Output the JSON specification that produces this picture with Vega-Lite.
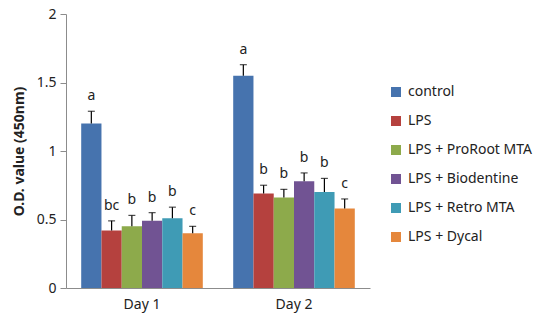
{
  "$schema": "https://vega.github.io/schema/vega-lite/v6.json",
  "width": 304,
  "height": 274,
  "autosize": "none",
  "padding": {"left": 66, "top": 14, "right": 180, "bottom": 39},
  "config": {
    "font": "Noto Sans",
    "view": {"stroke": null},
    "axis": {"labelColor": "#222", "titleColor": "#222", "domainColor": "#8c8c8c", "tickColor": "#8c8c8c", "grid": false, "labelFontSize": 14, "labelFontWeight": "normal"}
  },
  "data": {
    "values": [
      {"day": "Day 1", "group": "control", "value": 1.20, "upper": 1.29, "letter": "a"},
      {"day": "Day 1", "group": "LPS", "value": 0.42, "upper": 0.49, "letter": "bc"},
      {"day": "Day 1", "group": "LPS + ProRoot MTA", "value": 0.45, "upper": 0.53, "letter": "b"},
      {"day": "Day 1", "group": "LPS + Biodentine", "value": 0.49, "upper": 0.55, "letter": "b"},
      {"day": "Day 1", "group": "LPS + Retro MTA", "value": 0.51, "upper": 0.59, "letter": "b"},
      {"day": "Day 1", "group": "LPS + Dycal", "value": 0.40, "upper": 0.45, "letter": "c"},
      {"day": "Day 2", "group": "control", "value": 1.55, "upper": 1.63, "letter": "a"},
      {"day": "Day 2", "group": "LPS", "value": 0.69, "upper": 0.75, "letter": "b"},
      {"day": "Day 2", "group": "LPS + ProRoot MTA", "value": 0.66, "upper": 0.72, "letter": "b"},
      {"day": "Day 2", "group": "LPS + Biodentine", "value": 0.78, "upper": 0.84, "letter": "b"},
      {"day": "Day 2", "group": "LPS + Retro MTA", "value": 0.70, "upper": 0.80, "letter": "b"},
      {"day": "Day 2", "group": "LPS + Dycal", "value": 0.58, "upper": 0.65, "letter": "c"}
    ]
  },
  "encoding": {
    "x": {
      "field": "day", "type": "nominal",
      "scale": {"paddingInner": 0.2, "paddingOuter": 0.1},
      "axis": {"title": null, "labelAngle": 0, "ticks": false, "labelPadding": 9}
    },
    "xOffset": {
      "field": "group", "type": "nominal",
      "sort": ["control", "LPS", "LPS + ProRoot MTA", "LPS + Biodentine", "LPS + Retro MTA", "LPS + Dycal"],
      "scale": {"paddingInner": 0, "paddingOuter": 0}
    }
  },
  "layer": [
    {
      "mark": {"type": "bar"},
      "encoding": {
        "y": {
          "field": "value", "type": "quantitative",
          "scale": {"domain": [0, 2], "nice": false},
          "axis": {"title": "O.D. value (450nm)", "titleFontSize": 14, "titleFontWeight": "bold", "values": [0, 0.5, 1, 1.5, 2], "format": "~g", "tickSize": 6, "labelPadding": 4, "titlePadding": 10}
        },
        "color": {
          "field": "group", "type": "nominal",
          "sort": ["control", "LPS", "LPS + ProRoot MTA", "LPS + Biodentine", "LPS + Retro MTA", "LPS + Dycal"],
          "scale": {
            "domain": ["control", "LPS", "LPS + ProRoot MTA", "LPS + Biodentine", "LPS + Retro MTA", "LPS + Dycal"],
            "range": ["#4673AE", "#B5413E", "#8DAA4B", "#715393", "#3F9BB5", "#E5873C"]
          },
          "legend": {
            "title": null, "orient": "none", "legendX": 323, "legendY": 71,
            "symbolType": "square", "symbolSize": 100, "symbolStrokeWidth": 0,
            "labelFontSize": 14, "labelColor": "#222", "rowPadding": 15, "labelOffset": 5
          }
        }
      }
    },
    {
      "mark": {"type": "rule", "color": "#000", "strokeWidth": 1.2},
      "encoding": {
        "y": {"field": "value", "type": "quantitative"},
        "y2": {"field": "upper"}
      }
    },
    {
      "mark": {"type": "tick", "color": "#000", "thickness": 1.2, "size": 7, "orient": "horizontal"},
      "encoding": {
        "y": {"field": "upper", "type": "quantitative"}
      }
    },
    {
      "mark": {"type": "text", "dy": -15, "fontSize": 14, "color": "#222"},
      "encoding": {
        "y": {"field": "upper", "type": "quantitative"},
        "text": {"field": "letter"}
      }
    }
  ]
}
